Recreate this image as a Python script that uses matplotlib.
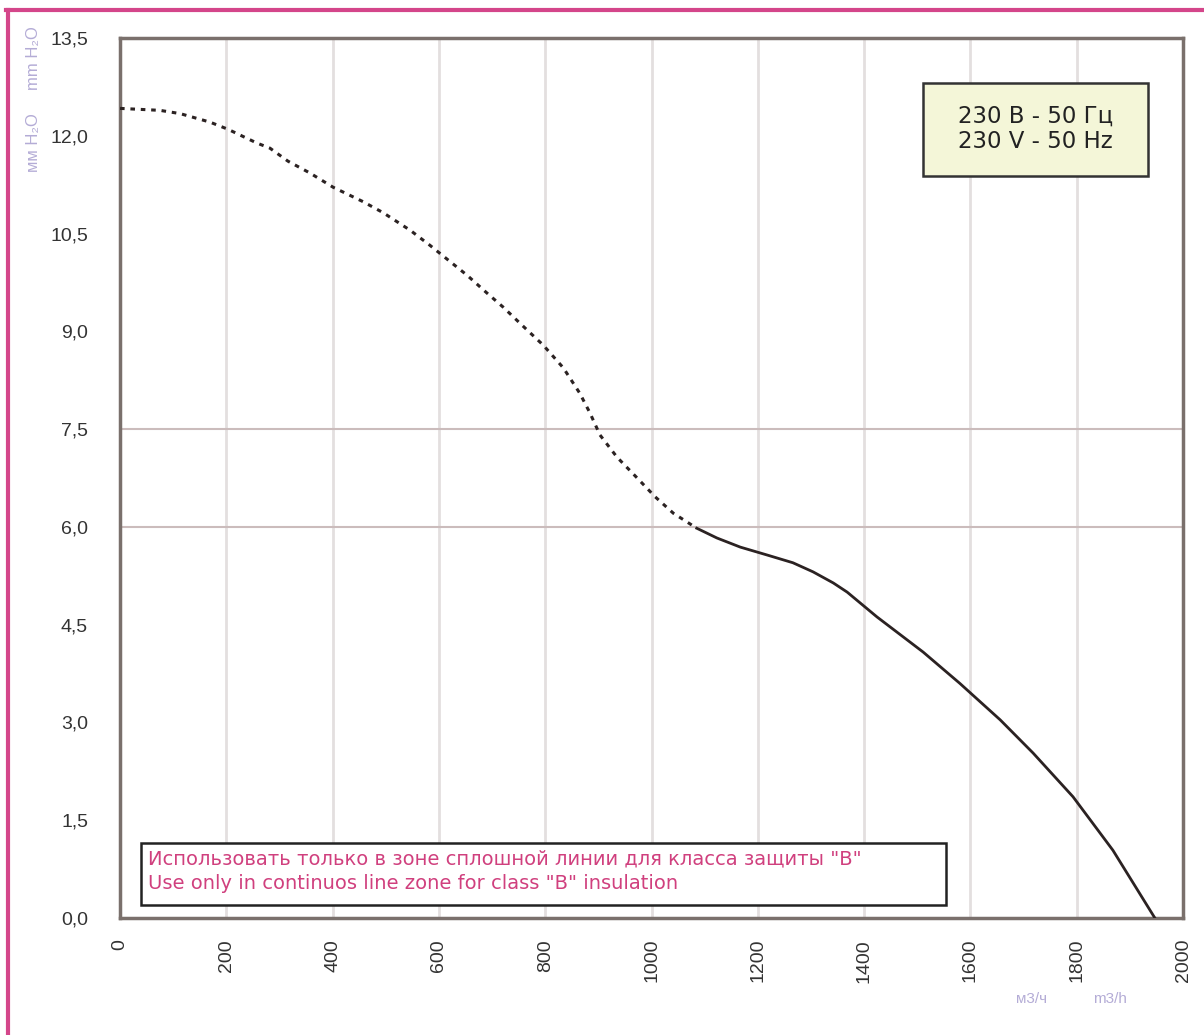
import matplotlib.pyplot as plt
from matplotlib.lines import Line2D

plt.rcParams["font.family"] = ["Liberation Sans", "DejaVu Sans"]

# fan curve, dotted part (outside class "B" zone)
flow_dotted = [0, 75, 113, 169, 203, 257, 282, 316, 357, 401, 457, 495, 546, 583,
               621, 653, 690, 721, 753, 796, 834, 865, 884, 903, 935, 973, 1007,
               1041, 1085]
pressure_dotted = [12.42, 12.39, 12.34, 12.21, 12.10, 11.89, 11.81, 11.61, 11.43,
                   11.21, 10.99, 10.82, 10.55, 10.32, 10.07, 9.86, 9.59, 9.37, 9.12,
                   8.79, 8.44, 8.05, 7.75, 7.41, 7.07, 6.75, 6.46, 6.21, 5.98]

# fan curve, continuous part
flow_solid = [1085, 1123, 1167, 1217, 1266, 1304, 1342, 1368, 1424, 1511, 1580,
              1656, 1718, 1793, 1868, 1906, 1947]
pressure_solid = [5.98, 5.83, 5.69, 5.57, 5.45, 5.31, 5.14, 5.00, 4.62, 4.08, 3.60,
                  3.04, 2.53, 1.86, 1.04, 0.54, 0.0]

x_ticks = list(range(0, 2001, 200))
y_ticks = [0.0, 1.5, 3.0, 4.5, 6.0, 7.5, 9.0, 10.5, 12.0, 13.5]
y_labels = [f"{v:.1f}".replace(".", ",") for v in y_ticks]

fig = plt.figure(figsize=(12.04, 10.35), dpi=100)
ax = fig.add_axes([0.0997, 0.1130, 0.8829, 0.8503])

ax.set_xlim(0, 2000)
ax.set_ylim(0, 13.5)

for x in x_ticks[1:-1]:
    ax.axvline(x, color="#e3dfdf", lw=2, zorder=1)
for y in (6.0, 7.5):
    ax.axhline(y, color="#cbbcbc", lw=1.5, zorder=1)

curve_color = "#2b2222"
ax.plot(flow_dotted, pressure_dotted, color=curve_color, lw=2.2,
        linestyle=(0, (1.5, 1.9)), zorder=3)
ax.plot(flow_solid, pressure_solid, color=curve_color, lw=2.0, zorder=3)

ax.set_xticks(x_ticks)
ax.set_xticklabels([str(v) for v in x_ticks], rotation=90)
ax.set_yticks(y_ticks)
ax.set_yticklabels(y_labels)
ax.tick_params(length=0, labelsize=14, colors="#333333", pad=15)
ax.tick_params(axis="y", pad=23)

for s in ax.spines.values():
    s.set_color("#7a706c")
    s.set_linewidth(2.5)

# voltage box
ax.add_patch(plt.Rectangle((0.755, 0.843), 0.212, 0.106, transform=ax.transAxes,
                           fc="#f4f6d8", ec="#333333", lw=1.8, zorder=4))
ax.text(0.861, 0.897, "230 В - 50 Гц\n230 V - 50 Hz", transform=ax.transAxes,
        ha="center", va="center", fontsize=16.5, family="DejaVu Sans",
        color="#222222", linespacing=1.15, zorder=5)

# insulation note
ax.add_patch(plt.Rectangle((0.0197, 0.0148), 0.7577, 0.0705,
                           transform=ax.transAxes, fc="white", ec="#222222",
                           lw=1.8, zorder=4))
ax.text(0.0263, 0.053,
        "Использовать только в зоне сплошной линии для класса защиты \"B\"\n"
        "Use only in continuos line zone for class \"B\" insulation",
        transform=ax.transAxes, ha="left", va="center", fontsize=14,
        family="DejaVu Sans", color="#d0407e", linespacing=1.4, zorder=5)

# axis units
fig.text(0.028, 0.975, "мм H₂O     mm H₂O", rotation=90, ha="center", va="top",
         fontsize=12, color="#b4acd6")
fig.text(0.857, 0.035, "м3/ч", ha="center", va="center", fontsize=11,
         color="#b4acd6")
fig.text(0.922, 0.035, "m3/h", ha="center", va="center", fontsize=11,
         color="#b4acd6")

# pink frame
fig.add_artist(Line2D([0.005, 1.0], [0.990, 0.990], color="#d4468a", lw=3,
                      transform=fig.transFigure))
fig.add_artist(Line2D([0.0065, 0.0065], [0.0, 0.990], color="#d4468a", lw=3,
                      transform=fig.transFigure))

fig.savefig("out.png", dpi=100)
